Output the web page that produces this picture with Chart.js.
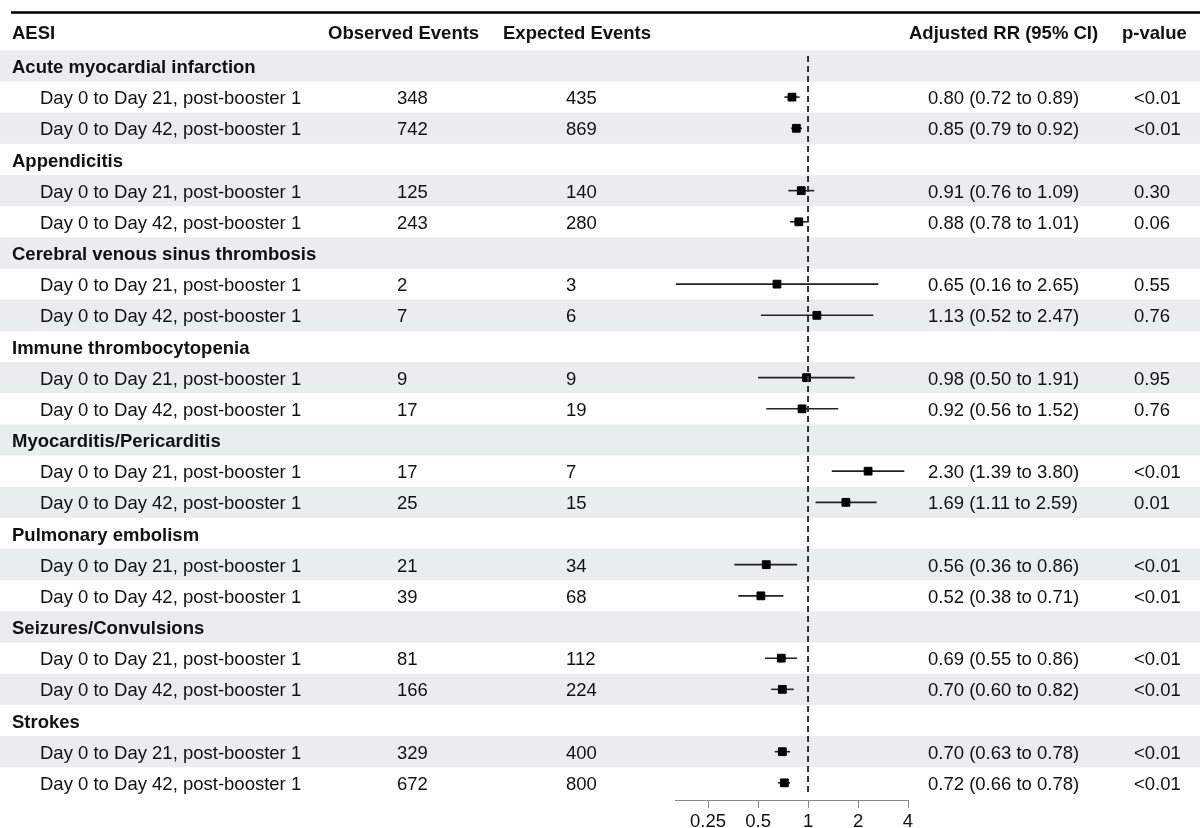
<!DOCTYPE html>
<html>
<head>
<meta charset="utf-8">
<script src="https://cdn.jsdelivr.net/npm/chart.js@4"></script>
<style>
  html, body { margin: 0; padding: 0; background: #fff; }
  #wrap { width: 1200px; height: 828px; position: relative; }
</style>
</head>
<body>
<div id="wrap"><canvas id="forest"></canvas></div>
<script>
const groups = ['Acute myocardial infarction', 'Appendicitis', 'Cerebral venous sinus thrombosis',
    'Immune thrombocytopenia', 'Myocarditis/Pericarditis', 'Pulmonary embolism',
    'Seizures/Convulsions', 'Strokes'];
const periods = ['Day 0 to Day 21, post-booster 1', 'Day 0 to Day 42, post-booster 1'];
const observed = [348, 742, 125, 243, 2, 7, 9, 17, 17, 25, 21, 39, 81, 166, 329, 672];
const expected = [435, 869, 140, 280, 3, 6, 9, 19, 7, 15, 34, 68, 112, 224, 400, 800];
const rr = [0.80, 0.85, 0.91, 0.88, 0.65, 1.13, 0.98, 0.92, 2.30, 1.69, 0.56, 0.52, 0.69, 0.70, 0.70, 0.72];
const lower = [0.72, 0.79, 0.76, 0.78, 0.16, 0.52, 0.50, 0.56, 1.39, 1.11, 0.36, 0.38, 0.55, 0.60, 0.63, 0.66];
const upper = [0.89, 0.92, 1.09, 1.01, 2.65, 2.47, 1.91, 1.52, 3.80, 2.59, 0.86, 0.71, 0.86, 0.82, 0.78, 0.78];
const pValues = ['<0.01', '<0.01', '0.30', '0.06', '0.55', '0.76', '0.95', '0.76',
    '<0.01', '0.01', '<0.01', '<0.01', '<0.01', '<0.01', '<0.01', '<0.01'];
const tickValues = [0.25, 0.5, 1, 2, 4];
const headers = ['AESI', 'Observed Events', 'Expected Events', 'Adjusted RR (95% CI)', 'p-value'];

const FONT = '"Liberation Sans", Arial, sans-serif';
const SIZE = 18.5;

// table rows: 0 = header, then group row + one row per period
const rows = [];
groups.forEach((g, gi) => {
    rows.push({ type: 'group', label: g });
    periods.forEach((p, pi) => rows.push({ type: 'item', label: p, k: gi * periods.length + pi }));
});
const rowOf = k => 1 + Math.floor(k / periods.length) * (periods.length + 1) + (k % periods.length) + 1;

const points = rr.map((v, k) => ({ x: v, y: rowOf(k) }));

const tablePlugin = {
    id: 'table',
    beforeDraw(chart) {
        const { ctx, scales: { y } } = chart;
        ctx.save();
        ctx.fillStyle = '#e9eded';
        for (let i = 1; i <= rows.length; i += 2) {
            const t = y.getPixelForValue(i - 0.5);
            const b = y.getPixelForValue(i + 0.5);
            ctx.fillRect(0, t, chart.width, b - t);
        }
        ctx.restore();
    },
    beforeDatasetsDraw(chart) {
        const { ctx, scales: { x, y } } = chart;
        ctx.save();
        ctx.strokeStyle = '#222';
        ctx.lineWidth = 1.6;
        rr.forEach((v, k) => {
            const py = y.getPixelForValue(rowOf(k));
            ctx.beginPath();
            ctx.moveTo(x.getPixelForValue(lower[k]), py);
            ctx.lineTo(x.getPixelForValue(upper[k]), py);
            ctx.stroke();
        });
        ctx.restore();
    },
    afterDraw(chart) {
        const { ctx, scales: { y } } = chart;
        ctx.save();
        ctx.strokeStyle = '#000';
        ctx.lineWidth = 2.5;
        ctx.beginPath();
        ctx.moveTo(11, 12.5);
        ctx.lineTo(chart.width, 12.5);
        ctx.stroke();

        ctx.fillStyle = '#111';
        ctx.textBaseline = 'middle';
        ctx.textAlign = 'left';
        ctx.font = 'bold ' + SIZE + 'px ' + FONT;
        const hy = y.getPixelForValue(0) - 1;
        const hx = [12, 328, 503, 909, 1122];
        headers.forEach((h, i) => ctx.fillText(h, hx[i], hy));

        rows.forEach((r, i) => {
            const py = y.getPixelForValue(i + 1) + 2;
            if (r.type === 'group') {
                ctx.font = 'bold ' + SIZE + 'px ' + FONT;
                ctx.fillText(r.label, 12, py);
            } else {
                const k = r.k;
                ctx.font = SIZE + 'px ' + FONT;
                ctx.fillText(r.label, 40, py);
                ctx.fillText(String(observed[k]), 397, py);
                ctx.fillText(String(expected[k]), 566, py);
                ctx.fillText(rr[k].toFixed(2) + ' (' + lower[k].toFixed(2) + ' to ' + upper[k].toFixed(2) + ')', 928, py);
                ctx.fillText(pValues[k], 1134, py);
            }
        });
        ctx.restore();
    }
};

new Chart(document.getElementById('forest'), {
    type: 'scatter',
    data: {
        datasets: [
            {
                type: 'line',
                data: [{ x: 1, y: 0.68 }, { x: 1, y: 24.35 }],
                borderColor: '#333',
                borderWidth: 2,
                borderDash: [6, 4],
                pointRadius: 0,
                fill: false
            },
            {
                data: points,
                pointStyle: 'rect',
                pointRadius: 5.5,
                backgroundColor: '#000',
                borderColor: '#000',
                borderWidth: 1
            }
        ]
    },
    options: {
        responsive: true,
        maintainAspectRatio: false,
        animation: false,
        layout: { padding: { left: 675, right: 292, top: 19.2, bottom: 0 } },
        plugins: { legend: { display: false }, tooltip: { enabled: false } },
        scales: {
            x: {
                type: 'logarithmic',
                min: 0.158,
                max: 4,
                afterBuildTicks: axis => { axis.ticks = tickValues.map(v => ({ value: v })); },
                afterFit: axis => { axis.height = 28; },
                grid: { drawOnChartArea: false, drawTicks: true, tickLength: 8, color: '#888' },
                border: { display: true, color: '#888', width: 1 },
                ticks: {
                    padding: 5,
                    color: '#111',
                    font: { family: FONT, size: SIZE, lineHeight: 1 },
                    maxRotation: 0,
                    autoSkip: false,
                    callback: v => String(v)
                }
            },
            y: {
                type: 'linear',
                reverse: true,
                min: -0.5,
                max: rows.length + 0.55,
                display: false
            }
        }
    },
    plugins: [tablePlugin]
});
</script>
</body>
</html>
